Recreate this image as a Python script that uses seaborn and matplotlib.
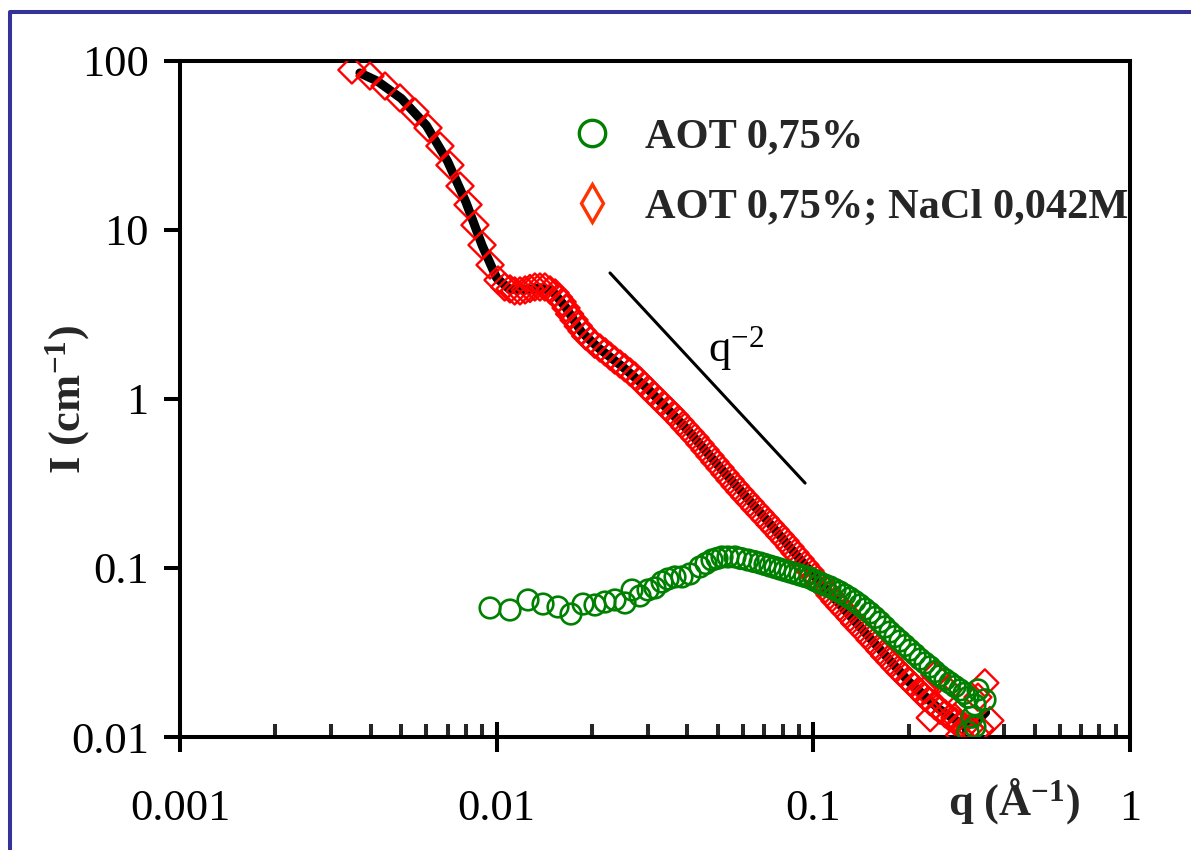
import matplotlib
matplotlib.use("Agg")
import matplotlib.pyplot as plt
from matplotlib.lines import Line2D
from matplotlib.ticker import FixedLocator, FixedFormatter, LogLocator, NullFormatter, NullLocator
import numpy as np
import pandas as pd
import seaborn as sns

# ---------------- data ----------------
q_nacl = [0.00349, 0.00398, 0.00444, 0.00495, 0.00552, 0.00607, 0.00662, 0.00712,
          0.00766, 0.00812, 0.00854, 0.00899, 0.00953, 0.0101, 0.0106, 0.0114,
          0.0123, 0.0132, 0.0142, 0.0153, 0.0161, 0.0170, 0.0181, 0.0191,
          0.0204, 0.0220, 0.0236, 0.0254, 0.0273, 0.0294, 0.0316, 0.0340,
          0.0366, 0.0393, 0.0423, 0.0455, 0.0489, 0.0526, 0.0566, 0.0608,
          0.0654, 0.0704, 0.0757, 0.0814, 0.0875, 0.0941, 0.101, 0.109,
          0.117, 0.126, 0.135, 0.146, 0.157, 0.168, 0.181, 0.195,
          0.209, 0.225, 0.242, 0.261, 0.280, 0.301,
          0.01102, 0.01185, 0.01274, 0.01370, 0.01474, 0.01568, 0.01656, 0.01755,
          0.01860, 0.01979, 0.02120, 0.02280, 0.02452, 0.02637, 0.02836, 0.03049,
          0.03280, 0.03527, 0.03793, 0.04079, 0.04386, 0.04717, 0.05073, 0.05456,
          0.05867, 0.06310, 0.06786, 0.07298, 0.07847, 0.08440, 0.09077, 0.09761,
          0.1050, 0.1129, 0.1214, 0.1306, 0.1404, 0.1510, 0.1624, 0.1746,
          0.1878, 0.2020, 0.2172, 0.2336, 0.2512, 0.2701, 0.2905,
          0.242, 0.266, 0.348, 0.331, 0.280, 0.312, 0.361, 0.225, 0.234, 0.261,
          0.290, 0.336]
I_nacl = [88.5, 81.5, 71.1, 60.4, 49.9, 40.2, 31.4, 24.2,
          18.2, 14.1, 10.7, 8.15, 6.21, 5.06, 4.60, 4.36,
          4.42, 4.60, 4.60, 4.24, 3.75, 3.18, 2.70, 2.36,
          2.11, 1.90, 1.70, 1.53, 1.37, 1.19, 1.04, 0.909,
          0.793, 0.683, 0.588, 0.499, 0.424, 0.360, 0.306, 0.263,
          0.226, 0.195, 0.168, 0.1445, 0.1227, 0.1042, 0.0885, 0.0751,
          0.0638, 0.0549, 0.0473, 0.0407, 0.0350, 0.0302, 0.0260, 0.0226,
          0.0198, 0.0172, 0.0153, 0.0137, 0.0124, 0.0115,
          4.48, 4.36, 4.51, 4.60, 4.42, 3.99, 3.455, 2.935,
          2.526, 2.234, 2.003, 1.796, 1.611, 1.445, 1.278, 1.115,
          0.973, 0.849, 0.736, 0.633, 0.542, 0.460, 0.391, 0.332,
          0.2836, 0.2442, 0.2102, 0.1809, 0.1557, 0.1331, 0.1130, 0.0960,
          0.0815, 0.0692, 0.0592, 0.0510, 0.0439, 0.0377, 0.0325, 0.0280,
          0.0242, 0.0212, 0.0185, 0.0162, 0.0144, 0.0130, 0.0119,
          0.0233, 0.0190, 0.0209, 0.0172, 0.0130, 0.0113, 0.0125, 0.0190, 0.0130, 0.0166,
          0.0103, 0.0112]

q_aot = [0.00953, 0.01102, 0.01256, 0.01401, 0.01562, 0.01717, 0.01874, 0.02044,
         0.02198, 0.02364, 0.02543, 0.02676, 0.02836, 0.03006, 0.03162, 0.03328,
         0.03476, 0.03658, 0.03848, 0.04079, 0.04386, 0.04786, 0.05148, 0.05657,
         0.06219, 0.06786, 0.07298, 0.07847, 0.08440, 0.09077, 0.09761, 0.1050,
         0.1129, 0.1214, 0.1306, 0.1404, 0.1510, 0.1624, 0.1746, 0.1878,
         0.2020, 0.2172, 0.2336, 0.2512, 0.2701, 0.2905, 0.3080, 0.3239,
         0.3170, 0.3239, 0.3080, 0.3484, 0.3311,
         0.04581, 0.04963, 0.05377, 0.05910, 0.06495, 0.07037, 0.07567, 0.08138,
         0.08752, 0.09412, 0.1012, 0.1088, 0.1171, 0.1259, 0.1354, 0.1456,
         0.1566, 0.1684, 0.1811, 0.1948, 0.2095, 0.2253, 0.2423, 0.2606,
         0.2802, 0.2991]
I_aot = [0.0580, 0.0564, 0.0647, 0.0612, 0.0588, 0.0534, 0.0612, 0.0604,
         0.0629, 0.0647, 0.0621, 0.0741, 0.0683, 0.0741, 0.0762, 0.0826,
         0.0861, 0.0885, 0.0885, 0.0922, 0.1014, 0.1115, 0.1162, 0.1162,
         0.1115, 0.1071, 0.1027, 0.0986, 0.0947, 0.0909, 0.0873, 0.0815,
         0.0772, 0.0721, 0.0664, 0.0604, 0.0542, 0.0479, 0.0418, 0.0370,
         0.0327, 0.0289, 0.0260, 0.0230, 0.0209, 0.0190, 0.0172, 0.0155,
         0.0131, 0.0115, 0.0107, 0.0166, 0.0190,
         0.1063, 0.1138, 0.1162, 0.1138, 0.1093, 0.1049, 0.1007, 0.0966,
         0.0928, 0.0891, 0.0843, 0.0793, 0.0746, 0.0692, 0.0634, 0.0572,
         0.0510, 0.0448, 0.0393, 0.0348, 0.0308, 0.0274, 0.0244, 0.0219,
         0.0199, 0.0181]

q_fit = [0.0037, 0.0042, 0.0050, 0.0060, 0.0070, 0.0080, 0.0090, 0.0100, 0.0110,
         0.0123, 0.0137, 0.0150, 0.0165, 0.0185, 0.0210, 0.025, 0.030, 0.040,
         0.050, 0.070, 0.100, 0.150, 0.200, 0.250, 0.300, 0.330, 0.350]
I_fit = [85.0, 76.0, 60.0, 41.5, 25.5, 14.6, 8.1, 5.2, 4.45,
         4.42, 4.55, 4.35, 3.5, 2.5, 2.0, 1.55, 1.15, 0.66,
         0.405, 0.20, 0.091, 0.039, 0.0213, 0.0146, 0.0116, 0.0125, 0.0140]

q_guide = [0.0228, 0.0942]
I_guide = [5.57, 0.318]

x_ticks = [0.001, 0.01, 0.1, 1]
x_ticklabels = ["0.001", "0.01", "0.1", "1"]
y_ticks = [0.01, 0.1, 1, 10, 100]
y_ticklabels = ["0.01", "0.1", "1", "10", "100"]

series_labels = ["AOT 0,75%", "AOT 0,75%; NaCl 0,042M"]

# ---------------- style ----------------
sns.set_style("ticks")
plt.rcParams["font.family"] = ["Liberation Serif", "DejaVu Serif"]
plt.rcParams["mathtext.fontset"] = "custom"
plt.rcParams["mathtext.rm"] = "Liberation Serif"
plt.rcParams["mathtext.it"] = "Liberation Serif:italic"
plt.rcParams["mathtext.bf"] = "Liberation Serif:bold"

fig = plt.figure(figsize=(11.91, 8.5), dpi=100)
fig.patch.set_facecolor("white")
ax = fig.add_axes([0.15113, 0.13294, 0.79765, 0.7953])
ax.set_facecolor("white")

df_nacl = pd.DataFrame({"q": q_nacl, "I": I_nacl})
df_aot = pd.DataFrame({"q": q_aot, "I": I_aot})
df_fit = pd.DataFrame({"q": q_fit, "I": I_fit})
df_guide = pd.DataFrame({"q": q_guide, "I": I_guide})

sns.lineplot(data=df_fit, x="q", y="I", ax=ax, color="black", lw=6.5,
             sort=False, estimator=None, zorder=2, legend=False)
sns.scatterplot(data=df_nacl, x="q", y="I", ax=ax, marker="D", s=190,
                facecolor="none", edgecolor="#FF0000", linewidth=1.7,
                zorder=3, legend=False)
sns.scatterplot(data=df_aot, x="q", y="I", ax=ax, marker="o", s=220,
                facecolor="none", edgecolor="#008000", linewidth=1.9,
                zorder=4, legend=False)
sns.lineplot(data=df_guide, x="q", y="I", ax=ax, color="black", lw=2.2,
             sort=False, estimator=None, zorder=2, legend=False)

ax.text(0.0465, 1.66, r"$\mathregular{q^{-2}}$", fontsize=32,
        ha="left", va="baseline", color="black")

ax.set_xscale("log")
ax.set_yscale("log")
ax.set_xlim(0.001, 1)
ax.set_ylim(0.01, 100)

ax.xaxis.set_major_locator(FixedLocator(x_ticks))
ax.xaxis.set_major_formatter(FixedFormatter(x_ticklabels))
ax.xaxis.set_minor_locator(LogLocator(base=10, subs=np.arange(2, 10)))
ax.xaxis.set_minor_formatter(NullFormatter())
ax.yaxis.set_major_locator(FixedLocator(y_ticks))
ax.yaxis.set_major_formatter(FixedFormatter(y_ticklabels))
ax.yaxis.set_minor_locator(NullLocator())

for sp in ax.spines.values():
    sp.set_visible(True)
    sp.set_linewidth(2.9)
    sp.set_color("black")

ax.tick_params(axis="x", which="major", direction="inout", length=21.5, width=2.9,
               pad=27, labelsize=32, colors="black", top=False)
ax.tick_params(axis="x", which="minor", direction="in", length=9.5, width=2.9,
               top=False)
ax.tick_params(axis="y", which="major", direction="out", length=11.5, width=2.9,
               pad=11, labelsize=32, colors="black", right=False)

ax.set_xlabel(r"$\mathbf{q\ (\AA^{-1})}$", fontsize=32)
ax.xaxis.set_label_coords(0.8084, -0.1154)
ax.xaxis.label.set_ha("left")
ax.xaxis.label.set_va("baseline")

ax.set_ylabel(r"$\mathbf{I\ (cm^{-1})}$", fontsize=32)
ax.yaxis.set_label_coords(-0.1053, 0.5)
ax.yaxis.label.set_va("baseline")
ax.yaxis.label.set_ha("center")

handles = [
    Line2D([], [], ls="none", marker="o", ms=19, mfc="none", mec="#008000", mew=2.4),
    Line2D([], [], ls="none", marker="d", ms=19, mfc="none", mec="#FF3300", mew=2.4),
]
leg = ax.legend(handles, series_labels, loc="upper left", bbox_to_anchor=(0.4116, 0.9157),
                frameon=False, prop={"family": "Liberation Serif", "weight": "bold", "size": 30.5},
                handlelength=1.0, handletextpad=0.75, labelspacing=0.75, borderpad=0,
                borderaxespad=0)

# blue frame of the original figure
fig.add_artist(Line2D([9.5 / 1191, 9.5 / 1191, 1.01], [-0.01, 1 - 11.5 / 850, 1 - 11.5 / 850],
                      transform=fig.transFigure, color="#333399", lw=2.9))

fig.savefig("out.png", dpi=100)
